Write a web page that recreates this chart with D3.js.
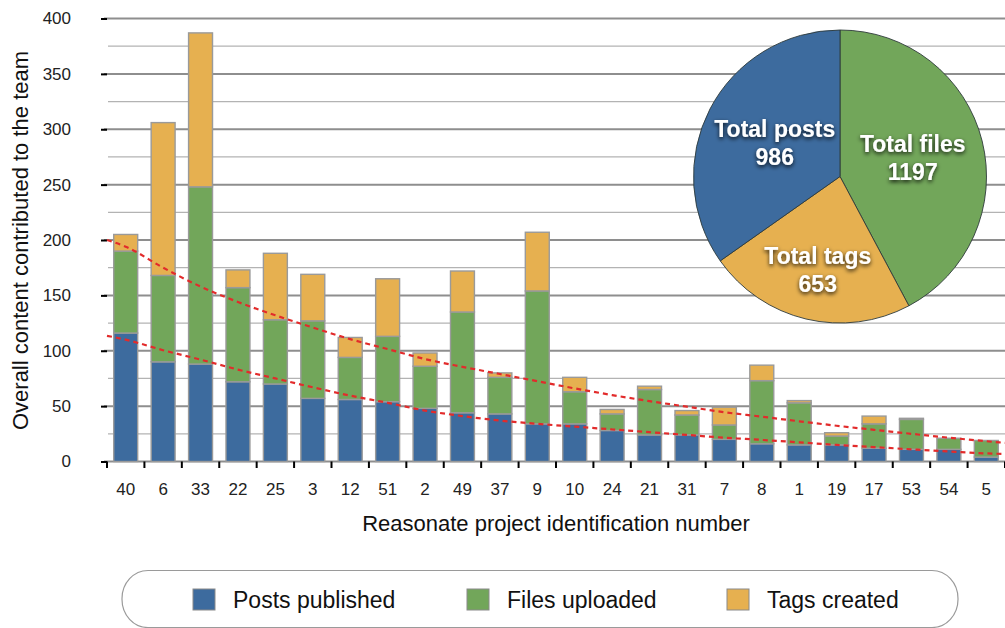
<!DOCTYPE html>
<html><head><meta charset="utf-8">
<script src="https://cdn.jsdelivr.net/npm/d3@7"></script>
<style>
html,body{margin:0;padding:0;background:#fff;}
svg{display:block;font-family:"Liberation Sans",Arial,Helvetica,sans-serif;}
</style>
</head><body>
<svg id="chart" width="1005" height="628"></svg>
<script>
// ---- data ----
const categories = ["40","6","33","22","25","3","12","51","2","49","37","9","10","24","21","31","7","8","1","19","17","53","54","5"];
const postsPublished = [116, 90, 88, 72, 70, 57, 56, 54, 48, 44, 43, 34, 34, 28, 24, 24, 20, 16, 15, 15, 12, 11, 11, 4];
const filesUploaded  = [74, 78, 160, 85, 58, 70, 38, 59, 38, 91, 33, 120, 29, 15, 41, 18, 13, 57, 38, 8, 22, 27, 10, 15];
const tagsCreated    = [15, 138, 139, 16, 60, 42, 18, 52, 12, 37, 4, 53, 13, 4, 3, 4, 16, 14, 2, 3, 7, 1, 0, 0];
const yTicks = [0, 50, 100, 150, 200, 250, 300, 350, 400];
const seriesNames = ["Posts published", "Files uploaded", "Tags created"];
const pieLabels = ["Total files", "Total tags", "Total posts"];
// dashed trend lines, read at the left plot edge, at each category, and at the right plot edge
const trendUpper = [200, 194, 175, 158, 144, 132, 121, 110.5, 101.5, 92.5, 85.5, 79, 72.5, 66, 60, 54.5, 49.5, 44.5, 40.5, 36.3, 32.3, 28.6, 25, 21.5, 18.3, 16.8];
const trendLower = [113.5, 110, 100.5, 92, 83, 75, 67, 59.5, 53, 46, 41, 37, 34, 31.5, 29, 26.5, 24, 21.5, 19.5, 17.3, 15, 13, 11, 9, 7.3, 6.8];

// ---- styles ----
const colors = {posts: "#3d6b9e", files: "#72a65a", tags: "#e6b050"};
const keys = ["posts", "files", "tags"];

const svg = d3.select("#chart");

const defs = svg.append("defs");
const f = defs.append("filter").attr("id", "shadow").attr("x", "-20%").attr("y", "-40%").attr("width", "140%").attr("height", "180%");
f.append("feDropShadow").attr("dx", 0).attr("dy", 2).attr("stdDeviation", 2.2).attr("flood-color", "#000").attr("flood-opacity", 0.85);

const table = categories.map((c, i) => ({cat: c, posts: postsPublished[i], files: filesUploaded[i], tags: tagsCreated[i]}));

const x = d3.scaleBand().domain(categories).range([107, 1005]).paddingInner(0.36).paddingOuter(0.18);
const y = d3.scaleLinear().domain([0, 400]).range([461.5, 18.5]);
const step = x.step();
const idxToX = i => x(categories[0]) + x.bandwidth() / 2 + i * step;

// ---- gridlines ----
const grid = svg.append("g");
const minorVals = d3.range(25, 400, 50);
grid.selectAll("line.minor").data(minorVals).join("line")
  .attr("x1", 108).attr("x2", 1005)
  .attr("y1", d => y(d)).attr("y2", d => y(d))
  .attr("stroke", "#b3b3b3").attr("stroke-width", 1.3);
grid.selectAll("line.major").data(yTicks).join("line")
  .attr("x1", 104).attr("x2", 1005)
  .attr("y1", d => y(d)).attr("y2", d => y(d))
  .attr("stroke", "#8e8e8e").attr("stroke-width", 2);

// ---- y axis ----
const yAxis = svg.append("g").attr("transform", "translate(107,0)")
  .call(d3.axisLeft(y).tickValues(yTicks).tickSize(6).tickPadding(30));
yAxis.select(".domain").remove();
yAxis.selectAll(".tick line").attr("stroke", "#000").attr("stroke-width", 2);
yAxis.selectAll(".tick text").attr("font-size", 17).attr("fill", "#222").attr("font-family", "Liberation Sans, Arial, sans-serif");

// ---- stacked bars ----
const stacked = d3.stack().keys(keys)(table);
const barsG = svg.append("g");
stacked.forEach(layer => {
  barsG.append("g").selectAll("rect").data(layer.filter(d => d[1] - d[0] > 0)).join("rect")
    .attr("x", d => x(d.data.cat))
    .attr("width", x.bandwidth())
    .attr("y", d => y(d[1]))
    .attr("height", d => y(d[0]) - y(d[1]))
    .attr("fill", colors[layer.key])
    .attr("stroke", "#9a9a9a")
    .attr("stroke-width", 1.4);
});

// ---- x axis ----
const xAxis = svg.append("g").attr("transform", "translate(0,461.5)")
  .call(d3.axisBottom(x).tickSize(0).tickPadding(21.5));
xAxis.select(".domain").remove();
xAxis.selectAll(".tick text").attr("font-size", 17).attr("fill", "#222").attr("font-family", "Liberation Sans, Arial, sans-serif");
const boundaries = categories.map(c => x(c) - step * 0.18).concat([x(categories[categories.length - 1]) + x.bandwidth() + step * 0.18]);
svg.append("g").selectAll("line").data(boundaries).join("line")
  .attr("x1", d => d).attr("x2", d => d)
  .attr("y1", 461.5).attr("y2", 468)
  .attr("stroke", "#000").attr("stroke-width", 2);

// ---- trend lines ----
const trendPos = [-0.5].concat(d3.range(categories.length), [categories.length - 0.5]);
const line = d3.line().x((d, i) => idxToX(trendPos[i])).y(d => y(d)).curve(d3.curveMonotoneX);
[trendUpper, trendLower].forEach(t => {
  svg.append("path").attr("d", line(t))
    .attr("fill", "none").attr("stroke", "#e22b2b").attr("stroke-width", 2.2)
    .attr("stroke-dasharray", "5,4");
});

// ---- axis titles ----
svg.append("text").attr("transform", "translate(27.5,240.5) rotate(-90)")
  .attr("text-anchor", "middle").attr("font-size", 22).attr("fill", "#111")
  .text("Overall content contributed to the team");
svg.append("text").attr("x", 556).attr("y", 530.5)
  .attr("text-anchor", "middle").attr("font-size", 22).attr("fill", "#111")
  .text("Reasonate project identification number");

// ---- pie ----
const pieValues = [d3.sum(filesUploaded), d3.sum(tagsCreated), d3.sum(postsPublished)];
const pieColors = [colors.files, colors.tags, colors.posts];
const labelRadius = [75, 96, 73.5];
const R = 146.5;
const pieG = svg.append("g").attr("transform", "translate(840,176.5)");
const arcs = d3.pie().sort(null).value(d => d)(pieValues);
const arc = d3.arc().innerRadius(0).outerRadius(R);
pieG.selectAll("path").data(arcs).join("path")
  .attr("d", arc).attr("fill", (d, i) => pieColors[i])
  .attr("stroke", "#2e3a3a").attr("stroke-width", 0.9);
arcs.forEach((a, i) => {
  const c = d3.arc().innerRadius(labelRadius[i]).outerRadius(labelRadius[i]).centroid(a);
  const t = pieG.append("text").attr("text-anchor", "middle")
    .attr("font-size", 23).attr("font-weight", "bold").attr("fill", "#fff")
    .attr("filter", "url(#shadow)");
  t.append("tspan").attr("x", c[0]).attr("y", c[1] - 6).text(pieLabels[i]);
  t.append("tspan").attr("x", c[0]).attr("y", c[1] + 22).text(String(pieValues[i]));
});

// ---- legend ----
const lg = svg.append("g");
lg.append("rect").attr("x", 122).attr("y", 570.5).attr("width", 836).attr("height", 57)
  .attr("rx", 26).attr("ry", 28).attr("fill", "#fff").attr("stroke", "#9a9a9a").attr("stroke-width", 1.2);
const legendX = [193, 467, 727];
seriesNames.forEach((name, i) => {
  lg.append("rect").attr("x", legendX[i]).attr("y", 589).attr("width", 22).attr("height", 21)
    .attr("fill", colors[keys[i]]).attr("stroke", "#8a8a8a").attr("stroke-width", 1);
  lg.append("text").attr("x", legendX[i] + 40).attr("y", 608.3)
    .attr("font-size", 23).attr("fill", "#111").text(name);
});
</script>
</body></html>
